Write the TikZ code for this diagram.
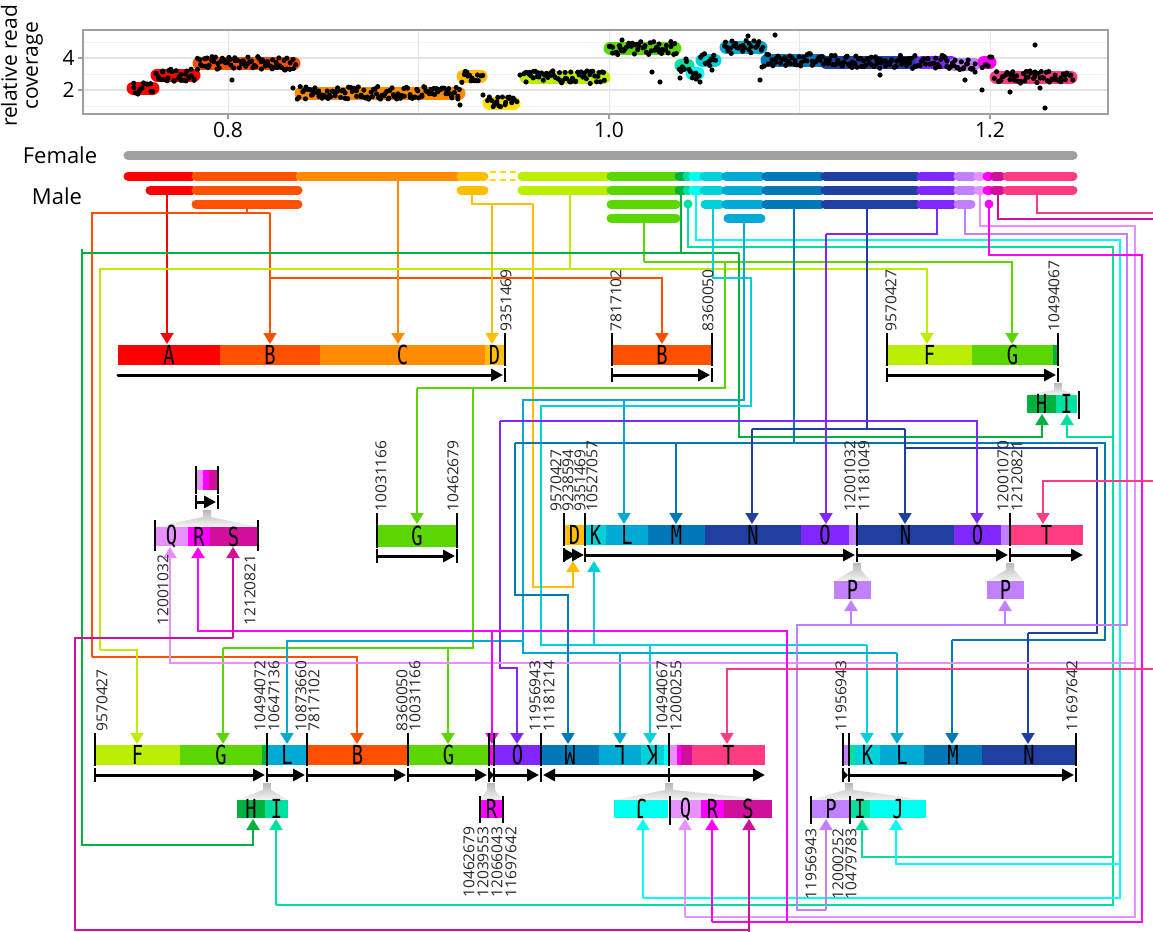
\documentclass[tikz,border=0pt]{standalone}
\usepackage{fontspec}
\setmainfont{Open Sans}
\newfontfamily\monof{DejaVu Sans Mono}
\usetikzlibrary{arrows.meta}
\definecolor{cA}{HTML}{FF0000}
\definecolor{cB}{HTML}{FF5000}
\definecolor{cC}{HTML}{FF8C00}
\definecolor{cD}{HTML}{FFBE00}
\definecolor{cE}{HTML}{FFE000}
\definecolor{cF}{HTML}{BBEE00}
\definecolor{cG}{HTML}{5CD600}
\definecolor{cH}{HTML}{00B140}
\definecolor{cI}{HTML}{00E0A0}
\definecolor{cJ}{HTML}{00FFF0}
\definecolor{cK}{HTML}{00D0D8}
\definecolor{cL}{HTML}{00AAD4}
\definecolor{cM}{HTML}{0077B6}
\definecolor{cN}{HTML}{1F40A0}
\definecolor{cO}{HTML}{8026FF}
\definecolor{cP}{HTML}{C080FF}
\definecolor{cQ}{HTML}{E890FF}
\definecolor{cR}{HTML}{FF00FF}
\definecolor{cS}{HTML}{D0109A}
\definecolor{cT}{HTML}{FF3C82}
\definecolor{fgray}{HTML}{A0A0A0}
\newcommand\sg[6][20]{%
  \fill[#5] (#2,#4) rectangle (#3,#4+#1);
  \node[seglbl] (g#2-#4) at ({(#2+#3)/2},{#4+#1/2}) {\scalebox{0.75}[1.05]{#6}};}
\newcommand\tk[3]{\draw[tick] (#1,#2) -- (#1,#3);}
\newcommand\lbu[3]{\node[num,rotate=90,anchor=west] (u#1-#2) at (#1,#2) {\scalebox{0.95}[0.92]{#3}};}
\newcommand\lbd[3]{\node[num,rotate=90,anchor=east] (d#1-#2) at (#1,#2) {\scalebox{0.95}[0.92]{#3}};}
\newcommand\wdg[5]{\shade[top color=gray!55,bottom color=gray!8] (#1-4,#2) -- (#1+4,#2) -- (#1+4,#2+7) -- (#5,#3) -- (#4,#3) -- (#1-4,#2+7) -- cycle;}
\begin{document}
\begin{tikzpicture}[x=0.5pt,y=-0.5pt,
  conn/.style={line width=1pt},
  tip/.style={-{Triangle[width=6.5pt,length=5.5pt]}},
  seglbl/.style={font=\monof\fontsize{12.5}{13}\selectfont, inner sep=0pt},
  num/.style={font=\fontsize{8.2}{9}\selectfont, inner sep=0.5pt, text=black!85},
  tick/.style={line width=1.2pt, black},
  barrow/.style={line width=1.5pt, black, -{Triangle[width=6pt,length=6pt]}},
  rowbar/.style={line width=4.5pt, line cap=round},
  band/.style={line width=6.5pt, line cap=round}]
\useasboundingbox (0,0) rectangle (1153,932);

% ---------------- coverage plot ----------------
\foreach \gx in {228,418.5,609,799.5,990}{\draw[gray!20,line width=0.5pt] (\gx,30) -- (\gx,114);}
\foreach \gy in {58,90}{\draw[gray!22,line width=0.6pt] (83,\gy) -- (1108,\gy);}
\foreach \gy in {42,74,106}{\draw[gray!10,line width=0.4pt] (83,\gy) -- (1108,\gy);}
\draw[gray!75,line width=0.8pt] (83,30) rectangle (1108,114);
\foreach \a/\b/\c/\cc in {133/153/88/cA,157/194/75/cA,199/294/63/cB,301/459/93/cC,463/481/76/cD,489/514/103/cE,526/604/77/cF,610/675/48/cG,681/688/65/cI,692/698/73/cJ,702/715/60/cK,726/761/47/cL,767/821/60/cM,826/916/62/cN,922/951/62/cO,955/974/64/cP,984/990/62/cR,996/1071/77/cT}{
  \draw[band,\cc] (\a,\c) -- (\b,\c);}
\pgfmathsetseed{7}
\foreach \a/\b/\c/\nn in {133/153/88/13, 156/195/75/27, 197/295/63/68, 298/460/93/112, 462/482/76/13, 488/516/103/19, 524/605/77/56, 609/676/48/46, 680/689/65/6, 691/699/73/6, 701/716/60/10, 724/762/47/27, 765/822/60/39, 824/917/62/64, 920/952/62/22, 954/975/64/14, 983/991/62/5, 995/1072/77/53}{
  \foreach \i in {0,...,\nn}{
    \pgfmathsetmacro\xx{\a+(\b-\a)/\nn*\i+2*(rnd-0.5)}
    \pgfmathsetmacro\yy{\c+13*(rnd-0.5)}
    \fill (\xx,\yy) circle (1.3pt);
  }}
\foreach \ox/\oy in {460/105,483/95,520/75,652/72,660/82,680/78,700/82,762/67,760/80,982/90,1045/108,880/75,965/80,975/72,293/88,285/70,232/80,1010/92,1040/88,712/70,622/40,1035/45,775/35,748/36}{
  \fill (\ox,\oy) circle (1.3pt);}
\foreach \gy/\t in {58/4,90/2}{\draw[gray!75,line width=0.6pt] (78,\gy) -- (83,\gy);
  \node[font=\fontsize{10.5}{11}\selectfont,anchor=east,inner sep=1pt] (yt\t) at (77,\gy) {\t};}
\foreach \gx/\t in {228/0.8,609/1.0,990/1.2}{\draw[gray!75,line width=0.6pt] (\gx,114) -- (\gx,119);
  \node[font=\fontsize{10.5}{11}\selectfont,anchor=north,inner sep=1pt] (xt\gx) at (\gx,120) {\t};}
\node[rotate=90,align=center,font=\fontsize{10.5}{10.5}\selectfont,inner sep=0pt] (ylab) at (22,66) {relative read\\coverage};

% ---------------- Female / Male ----------------
\node[font=\fontsize{11}{11}\selectfont] (female) at (60,155) {Female};
\node[font=\fontsize{11}{11}\selectfont] (male) at (57,196) {Male};
\draw[rowbar,fgray] (128,155) -- (1073,155);

% ---------------- connectors ----------------
% A
\draw[conn,cA,tip] (167,190) -- (167,344);
% B
\draw[conn,cB] (247,204) -- (247,213);
\draw[conn,cB] (92,657) -- (92,213) -- (270,213);
\draw[conn,cB,tip] (270,213) -- (270,344);
\draw[conn,cB,tip] (270,278) -- (662,278) -- (662,344);
\draw[conn,cB,tip] (92,657) -- (357,657) -- (357,744);
% C
\draw[conn,cC,tip] (398,176) -- (398,344);
% D
\draw[conn,cD] (472,190) -- (472,204) -- (533,204);
\draw[conn,cD,tip] (492,204) -- (492,344);
\draw[conn,cD,tip] (533,204) -- (533,587) -- (573,587) -- (573,561);
% F
\draw[conn,cF] (570,190) -- (570,269);
\draw[conn,cF,tip] (100,650) -- (100,269) -- (927,269) -- (927,344);
\draw[conn,cF,tip] (100,650) -- (137,650) -- (137,744);
% G
\draw[conn,cG] (644,218) -- (644,262);
\draw[conn,cG,tip] (644,262) -- (1012,262) -- (1012,344);
\draw[conn,cG] (725,262) -- (725,388) -- (417,388);
\draw[conn,cG,tip] (417,388) -- (417,524);
\draw[conn,cG] (473,388) -- (473,648) -- (223,648);
\draw[conn,cG,tip] (223,648) -- (223,744);
\draw[conn,cG,tip] (448,648) -- (448,744);
% H
\draw[conn,cH] (681,190) -- (681,253);
\draw[conn,cH] (82,249) -- (82,253) -- (739,253);
\draw[conn,cH,tip] (82,253) -- (82,845) -- (253,845) -- (253,819);
\draw[conn,cH,tip] (739,253) -- (739,437) -- (1042,437) -- (1042,414);
% I
\draw[conn,cI] (688,204) -- (688,247) -- (1113,247) -- (1113,905) -- (276,905);
\draw[conn,cI,tip] (276,905) -- (276,819);
\draw[conn,cI,tip] (1113,437) -- (1067,437) -- (1067,414);
\draw[conn,cI,tip] (1113,857) -- (862,857) -- (862,819);
% J
\draw[conn,cJ] (696,190) -- (696,240) -- (1120,240) -- (1120,898) -- (643,898);
\draw[conn,cJ,tip] (643,898) -- (643,819);
\draw[conn,cJ,tip] (1120,864) -- (896,864) -- (896,819);
% K
\draw[conn,cK] (713,204) -- (713,278) -- (751,278) -- (751,406) -- (541,406) -- (541,645) -- (867,645);
\draw[conn,cK,tip] (867,645) -- (867,744);
\draw[conn,cK,tip] (650,645) -- (650,744);
\draw[conn,cK,tip] (594,645) -- (594,561);
% L
\draw[conn,cL] (744,218) -- (744,400) -- (523,400) -- (523,653) -- (897,653);
\draw[conn,cL,tip] (897,653) -- (897,744);
\draw[conn,cL,tip] (620,653) -- (620,744);
\draw[conn,cL,tip] (624,400) -- (624,524);
\draw[conn,cL,tip] (523,641) -- (287,641) -- (287,744);
% M
\draw[conn,cM] (794,204) -- (794,443);
\draw[conn,cM] (515,443) -- (1105,443) -- (1105,640) -- (952,640);
\draw[conn,cM,tip] (952,640) -- (952,744);
\draw[conn,cM,tip] (676,443) -- (676,524);
\draw[conn,cM,tip] (515,443) -- (515,595) -- (568,595) -- (568,744);
% N
\draw[conn,cN] (867,204) -- (867,429);
\draw[conn,cN] (752,429) -- (905,429);
\draw[conn,cN,tip] (752,429) -- (752,524);
\draw[conn,cN,tip] (905,429) -- (905,524);
\draw[conn,cN] (905,448) -- (1097,448) -- (1097,633) -- (1028,633);
\draw[conn,cN,tip] (1028,633) -- (1028,744);
% O
\draw[conn,cO] (937,204) -- (937,234) -- (826,234);
\draw[conn,cO,tip] (826,234) -- (826,524);
\draw[conn,cO,tip] (500,421) -- (977,421) -- (977,524);
\draw[conn,cO,tip] (500,421) -- (500,668) -- (517,668) -- (517,744);
% P
\draw[conn,cP] (965,204) -- (965,234) -- (1127,234) -- (1127,625) -- (797,625) -- (797,910) -- (826,910);
\draw[conn,cP,tip] (826,910) -- (826,819);
\draw[conn,cP,tip] (851,625) -- (851,600);
\draw[conn,cP,tip] (1005,625) -- (1005,600);
% Q
\draw[conn,cQ] (980,190) -- (980,226) -- (1135,226) -- (1135,917) -- (685,917);
\draw[conn,cQ,tip] (685,917) -- (685,819);
\draw[conn,cQ,tip] (1135,663) -- (170,663) -- (170,547);
% R
\draw[conn,cR] (989,204) -- (989,255) -- (1142,255) -- (1142,922) -- (712,922);
\draw[conn,cR,tip] (712,922) -- (712,819);
\draw[conn,cR,tip] (787,922) -- (787,631) -- (198,631) -- (198,547);
\draw[conn,cR,tip] (492,631) -- (492,744);
% S
\draw[conn,cS] (998,190) -- (998,219) -- (1153,219);
\draw[conn,cS] (749,932) -- (749,930) -- (75,930) -- (75,638) -- (233,638);
\draw[conn,cS,tip] (233,638) -- (233,547);
\draw[conn,cS,tip] (749,930) -- (749,819);
% T
\draw[conn,cT] (1037,190) -- (1037,213) -- (1153,213);
\draw[conn,cT,tip] (1153,481) -- (1043,481) -- (1043,524);
\draw[conn,cT,tip] (1153,669) -- (727,669) -- (727,744);

% ---------------- male rows ----------------
\foreach \a/\b/\cc in {128/192/cA,196/296/cB,300/458/cC,461/484/cD,522/607/cF,611/676/cG,679/684/cH,687/689/cI,693/700/cJ,704/720/cK,726/761/cL,766/821/cM,825/917/cN,921/953/cO,958/973/cP,978/981/cQ,987/990/cR,994/1001/cS,1007/1073/cT}{
  \draw[rowbar,\cc] (\a,176) -- (\b,176);}
\draw[cE,line width=0.9pt,dash pattern=on 3pt off 2pt] (490,172) -- (518,172) (490,180) -- (518,180);
\foreach \a/\b/\cc in {150/192/cA,196/298/cB,461/484/cD,522/607/cF,611/676/cG,679/684/cH,687/689/cI,693/700/cJ,704/720/cK,726/761/cL,766/821/cM,825/917/cN,921/953/cO,958/973/cP,978/981/cQ,987/990/cR,994/1001/cS,1007/1073/cT}{
  \draw[rowbar,\cc] (\a,190) -- (\b,190);}
\foreach \a/\b/\cc in {196/298/cB,611/676/cG,688/688/cI,705/720/cK,726/761/cL,766/821/cM,825/917/cN,921/953/cO,958/971/cP,989/989/cR}{
  \draw[rowbar,\cc] (\a,204) -- (\b,204);}
\foreach \a/\b/\cc in {611/676/cG,728/761/cL}{
  \draw[rowbar,\cc] (\a,218) -- (\b,218);}

% ---------------- bar 1 : A B C D ----------------
\sg{118}{220}{345}{cA}{A}
\sg{220}{320}{345}{cB}{B}
\sg{320}{485}{345}{cC}{C}
\sg{485}{504}{345}{cD}{D}
\tk{505}{333}{366}
\lbu{506}{333}{9351469}
\draw[barrow,line cap=round] (118,375) -- (503,375);
\tk{505}{368}{382}

% ---------------- bar 2 : B ----------------
\sg{612}{712}{345}{cB}{B}
\tk{612}{333}{366}\tk{712}{333}{366}
\lbu{616}{333}{7817102}
\lbu{708}{333}{8360050}
\draw[barrow] (612,375) -- (710,375);
\tk{612}{368}{382}\tk{712}{368}{382}

% ---------------- bar 3 : F G ----------------
\sg{887}{972}{345}{cF}{F}
\sg{972}{1053}{345}{cG}{G}
\sg{1053}{1057}{345}{cH}{}
\tk{887}{333}{366}\tk{1058}{333}{366}
\lbu{891}{333}{9570427}
\lbu{1054}{333}{10494067}
\draw[barrow] (887,375) -- (1056,375);
\tk{887}{368}{382}\tk{1058}{368}{382}
\wdg{1058}{383}{395}{1027}{1078}
\sg[18]{1027}{1056}{395}{cH}{H}
\sg[18]{1056}{1077}{395}{cI}{I}
\tk{1079}{391}{419}

% ---------------- small Q R S ----------------
\sg{197}{203}{470}{cQ}{}
\sg{203}{209}{470}{cR}{}
\sg{209}{217}{470}{cS}{}
\tk{196}{466}{494}\tk{218}{466}{494}
\draw[barrow] (196,502) -- (216,502);
\tk{196}{495}{509}\tk{218}{495}{509}
\wdg{207}{510}{527}{155}{258}
\sg[19]{155}{188}{527}{cQ}{Q}
\sg[19]{188}{210}{527}{cR}{R}
\sg[19]{210}{257}{527}{cS}{S}
\tk{155}{520}{551}\tk{258}{520}{551}
\lbd{163}{553}{12001032}
\lbd{250}{553}{12120821}

% ---------------- G alone ----------------
\sg[22]{377}{457}{525}{cG}{G}
\tk{377}{513}{548}\tk{457}{513}{548}
\lbu{381}{513}{10031166}
\lbu{453}{513}{10462679}
\draw[barrow] (377,556) -- (455,556);
\tk{377}{549}{563}\tk{457}{549}{563}

% ---------------- middle bar ----------------
\sg{564}{585}{525}{cD}{D}
\sg{585}{606}{525}{cK}{K}
\sg{606}{648}{525}{cL}{L}
\sg{648}{705}{525}{cM}{M}
\sg{705}{801}{525}{cN}{N}
\sg{801}{849}{525}{cO}{O}
\sg{849}{857}{525}{cP}{}
\sg{857}{954}{525}{cN}{N}
\sg{954}{1001}{525}{cO}{O}
\sg{1001}{1010}{525}{cP}{}
\sg{1010}{1083}{525}{cT}{T}
\tk{564}{513}{546}\tk{585}{513}{546}\tk{857}{513}{546}\tk{1010}{513}{546}
\lbu{556}{513}{9570427}
\lbu{568}{513}{9238594}
\lbu{580}{513}{9351469}
\lbu{592}{513}{10527057}
\lbu{850}{513}{12001032}
\lbu{864}{513}{11181049}
\lbu{1003}{513}{12001070}
\lbu{1017}{513}{12120821}
\draw[barrow] (564,555) -- (576,555);
\draw[barrow] (576,555) -- (584,555);
\draw[barrow] (585,555) -- (855,555);
\draw[barrow] (857,555) -- (1008,555);
\draw[barrow] (1010,555) -- (1083,555);
\foreach \t in {564,585,857,1010}{\tk{\t}{548}{562}}
\wdg{857}{563}{581}{834}{871}
\wdg{1010}{563}{581}{987}{1024}
\sg[18]{834}{871}{581}{cP}{P}
\sg[18]{987}{1024}{581}{cP}{P}

% ---------------- bottom-left bar ----------------
\sg{95}{180}{745}{cF}{F}
\sg{180}{262}{745}{cG}{G}
\sg{262}{267}{745}{cH}{}
\sg{267}{307}{745}{cL}{L}
\sg{307}{408}{745}{cB}{B}
\sg{408}{489}{745}{cG}{G}
\sg{489}{494}{745}{cR}{}
\sg{494}{541}{745}{cO}{O}
\sg{541}{599}{745}{cM}{\rotatebox{180}{M}}
\sg{599}{641}{745}{cL}{\rotatebox{180}{L}}
\sg{641}{664}{745}{cK}{\rotatebox{180}{K}}
\sg{664}{669}{745}{cJ}{}
\sg{669}{677}{745}{cQ}{}
\sg{677}{681}{745}{cR}{}
\sg{681}{692}{745}{cS}{}
\sg{692}{765}{745}{cT}{T}
\foreach \t in {95,267,307,408,489,494,541,669}{\tk{\t}{733}{766}}
\lbu{102}{733}{9570427}
\lbu{260}{733}{10494072}
\lbu{274}{733}{10647136}
\lbu{301}{733}{10873660}
\lbu{314}{733}{7817102}
\lbu{402}{733}{8360050}
\lbu{415}{733}{10031166}
\lbu{535}{733}{11956943}
\lbu{549}{733}{11181214}
\lbu{662}{733}{10494067}
\lbu{676}{733}{12000255}
\draw[barrow] (95,775) -- (265,775);
\draw[barrow] (267,775) -- (305,775);
\draw[barrow] (307,775) -- (406,775);
\draw[barrow] (408,775) -- (487,775);
\fill (489,770) -- (494,775) -- (489,780) -- cycle;
\draw[barrow] (494,775) -- (539,775);
\draw[barrow] (669,775) -- (543,775);
\draw[barrow] (669,775) -- (765,775);
\foreach \t in {95,267,307,408,489,494,541,669}{\tk{\t}{768}{782}}
\wdg{267}{783}{800}{237}{288}
\wdg{491}{783}{800}{480}{503}
\wdg{669}{783}{800}{614}{772}
\sg[18]{237}{265}{800}{cH}{H}
\sg[18]{265}{288}{800}{cI}{I}
\sg[18]{480}{503}{800}{cR}{R}
\tk{480}{796}{823}\tk{503}{796}{823}
\lbd{469}{825}{10462679}
\lbd{483}{825}{12039553}
\lbd{497}{825}{12066043}
\lbd{511}{825}{11697642}
\sg[18]{614}{668}{800}{cJ}{\rotatebox{180}{J}}
\sg[18]{670}{701}{800}{cQ}{Q}
\sg[18]{701}{724}{800}{cR}{R}
\sg[18]{724}{772}{800}{cS}{S}
\tk{670}{796}{825}

% ---------------- bottom-right bar ----------------
\sg{843}{848}{745}{cP}{}
\sg{849}{855}{745}{cI}{}
\sg{855}{880}{745}{cK}{K}
\sg{880}{924}{745}{cL}{L}
\sg{924}{982}{745}{cM}{M}
\sg{982}{1076}{745}{cN}{N}
\foreach \t in {843,849,1076}{\tk{\t}{733}{766}}
\lbu{841}{733}{11956943}
\lbu{1072}{733}{11697642}
\fill (843,770) -- (848,775) -- (843,780) -- cycle;
\draw[barrow] (849,775) -- (1074,775);
\foreach \t in {843,849,1076}{\tk{\t}{768}{782}}
\wdg{849}{783}{800}{811}{926}
\sg[18]{812}{850}{800}{cP}{P}
\sg[18]{850}{870}{800}{cI}{I}
\sg[18]{870}{926}{800}{cJ}{J}
\tk{811}{796}{824}\tk{850}{796}{824}
\lbd{811}{827}{11956943}
\lbd{838}{827}{12000252}
\lbd{851}{827}{10479783}
\end{tikzpicture}
\end{document}
